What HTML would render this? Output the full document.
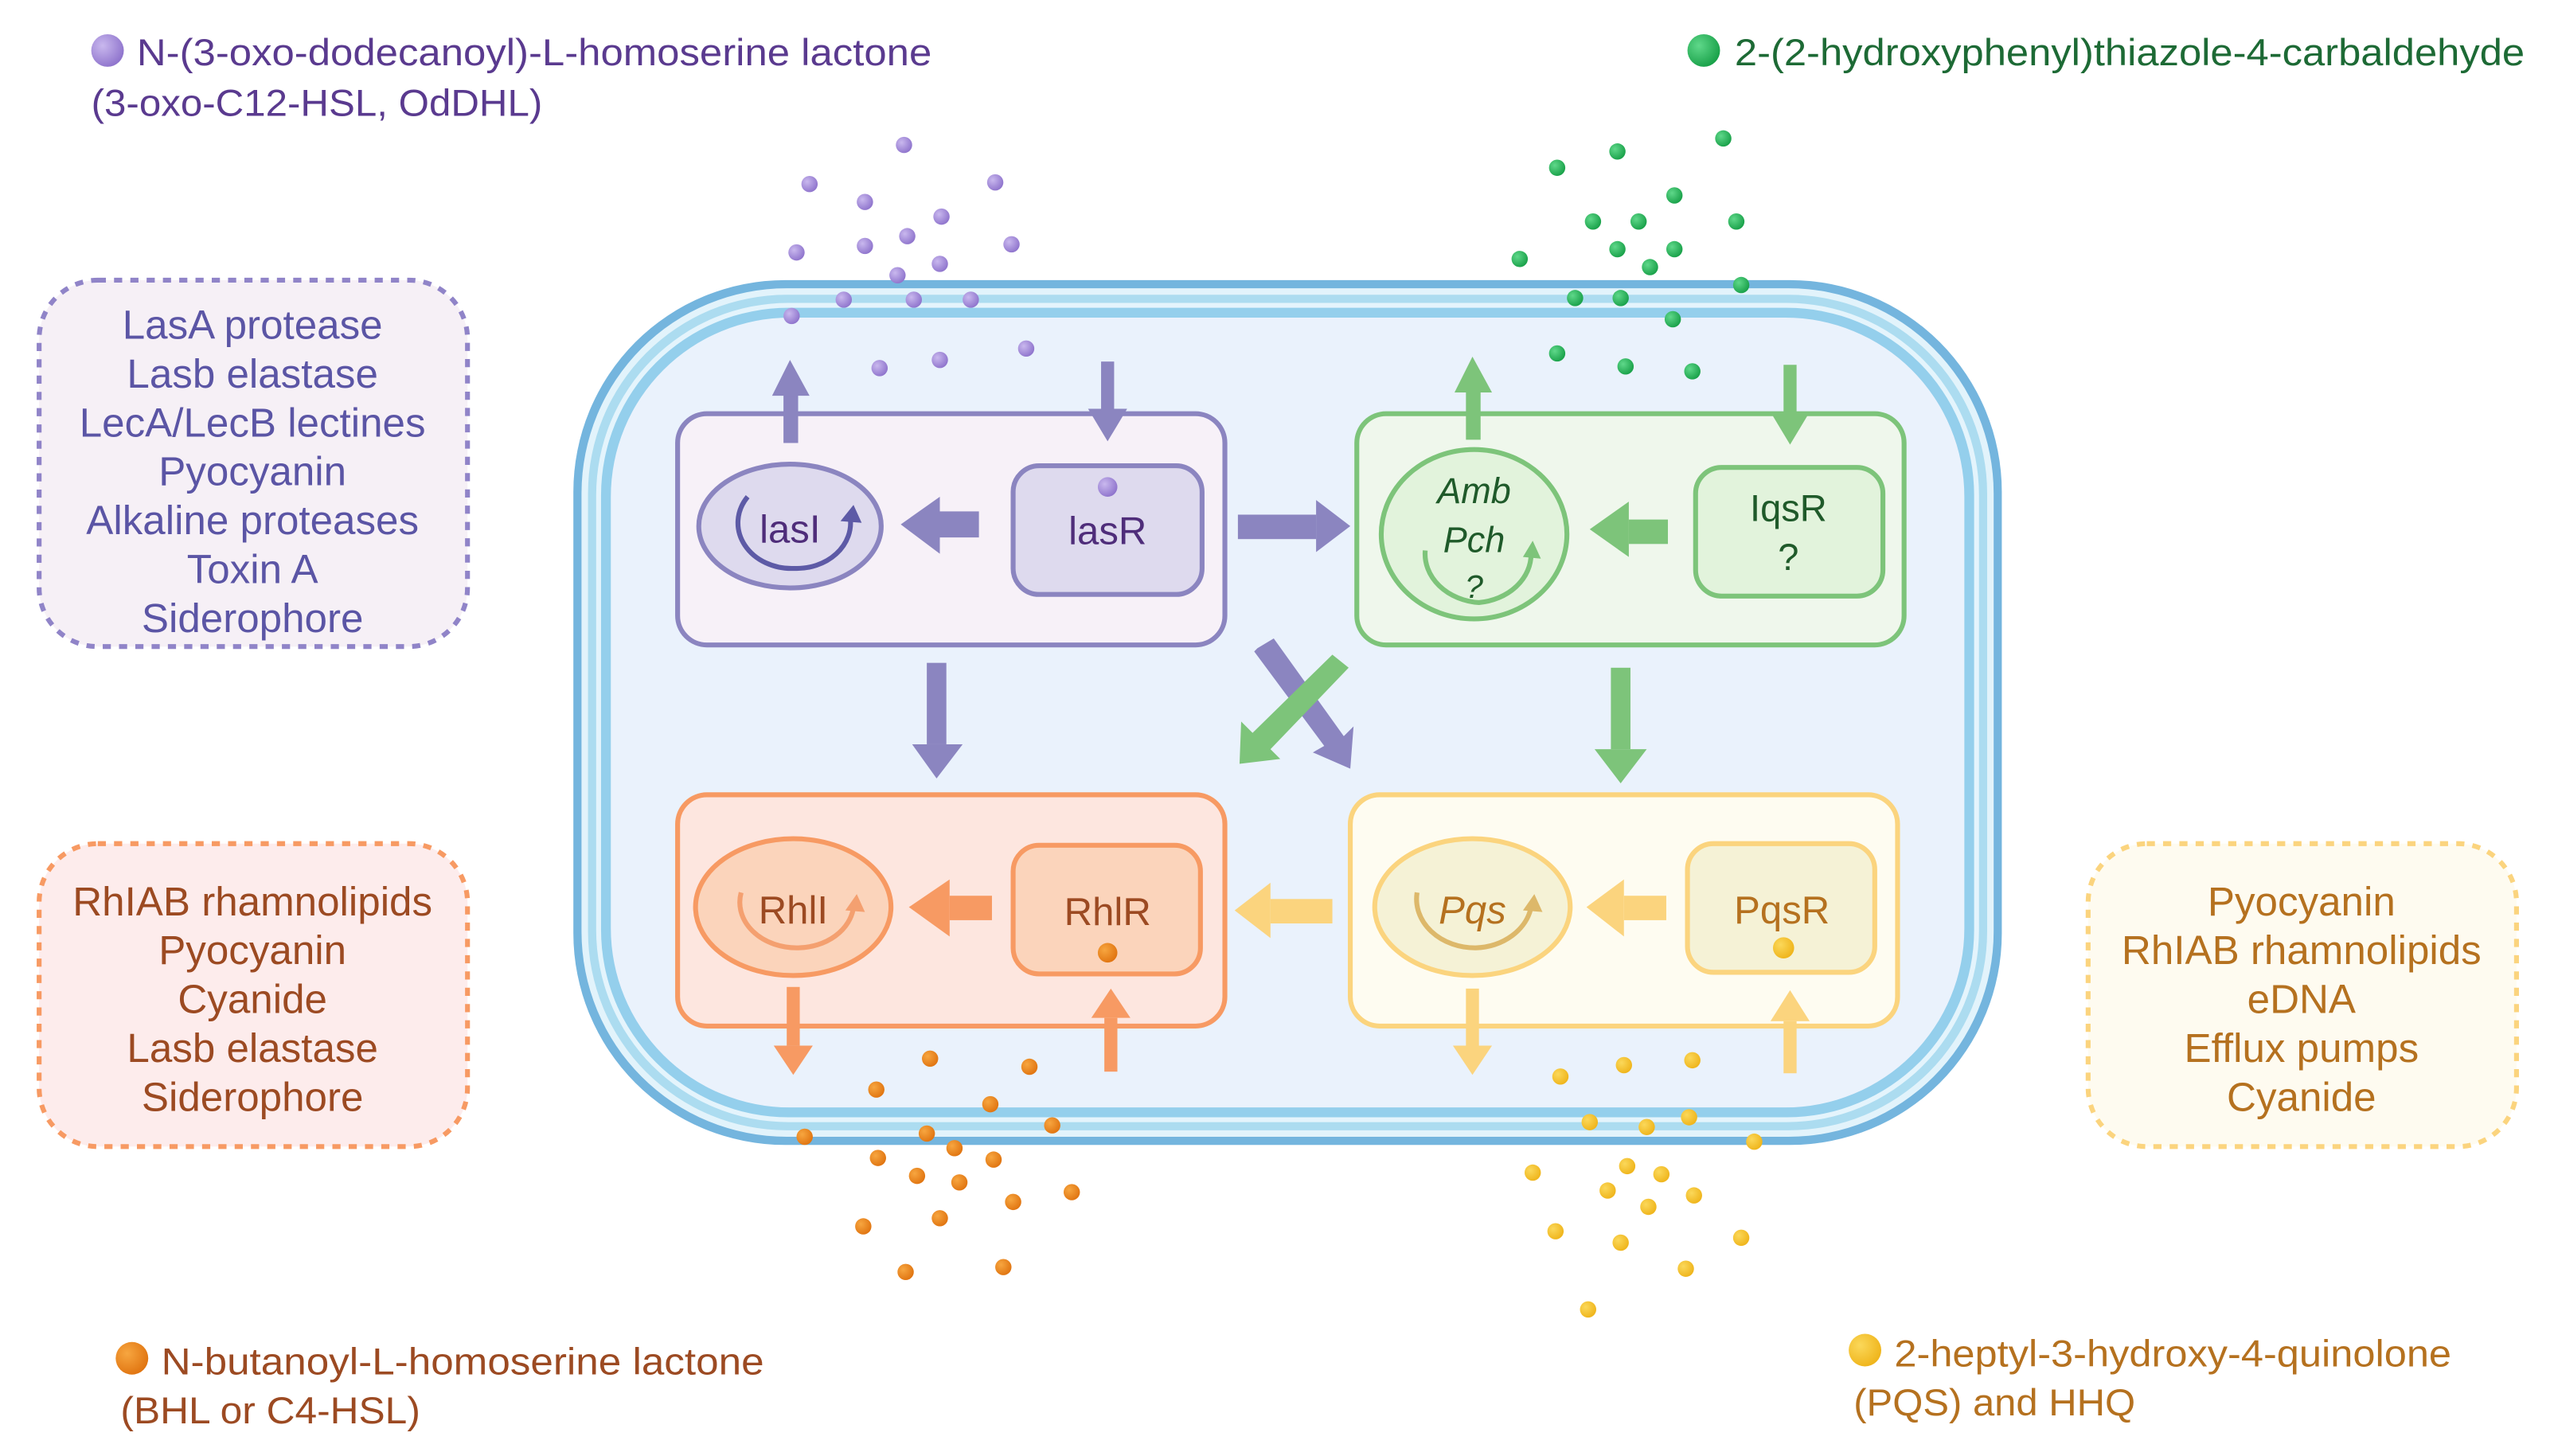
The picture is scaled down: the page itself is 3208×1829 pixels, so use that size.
<!DOCTYPE html>
<html><head><meta charset="utf-8"><style>html,body{margin:0;padding:0;background:#fff}svg{display:block}text{font-family:"Liberation Sans",sans-serif}</style></head>
<body>
<svg width="3208" height="1829" viewBox="0 0 1568 894" xmlns="http://www.w3.org/2000/svg">
<defs>
<radialGradient id="gp" cx="35%" cy="35%" r="70%"><stop offset="0" stop-color="#c9b8ee"/><stop offset="1" stop-color="#8e73cc"/></radialGradient>
<radialGradient id="gg" cx="35%" cy="35%" r="70%"><stop offset="0" stop-color="#5fd88a"/><stop offset="1" stop-color="#18a048"/></radialGradient>
<radialGradient id="go" cx="35%" cy="35%" r="70%"><stop offset="0" stop-color="#f7a640"/><stop offset="1" stop-color="#e07410"/></radialGradient>
<radialGradient id="gy" cx="35%" cy="35%" r="70%"><stop offset="0" stop-color="#fbd85a"/><stop offset="1" stop-color="#efb41a"/></radialGradient>
</defs>
<rect x="352" y="172" width="877" height="531" rx="130" fill="#74b5de"/>
<rect x="357" y="177" width="867" height="521" rx="126" fill="#e2f3fb"/>
<rect x="361" y="181" width="859" height="513" rx="122" fill="#acdcf0"/>
<rect x="366" y="186" width="849" height="503" rx="118" fill="#e4f4fc"/>
<rect x="369" y="189" width="843" height="497" rx="115" fill="#94cfec"/>
<rect x="375" y="195" width="831" height="485" rx="110" fill="#eaf2fc"/>

<rect x="416" y="254" width="336" height="142" rx="18" fill="#f7f1f8" stroke="#8b85c0" stroke-width="3"/>
<rect x="833" y="254" width="336" height="142" rx="18" fill="#eff7ec" stroke="#7dc47a" stroke-width="3"/>
<rect x="416" y="488" width="336" height="142" rx="18" fill="#fde6df" stroke="#f79a63" stroke-width="3"/>
<rect x="829" y="488" width="336" height="142" rx="18" fill="#fefcf1" stroke="#fbd47e" stroke-width="3"/>

<ellipse cx="485" cy="323" rx="56" ry="38" fill="#dedaee" stroke="#8b85c0" stroke-width="3"/>
<path d="M 459 305 A 33 28 0 0 0 488 349 A 33 28 0 0 0 522 318" fill="none" stroke="#5d5aa6" stroke-width="3"/>
<polygon points="516,320 524,310 529,321" fill="#5d5aa6"/>
<text x="485" y="333" font-size="24" fill="#4f2d7a" text-anchor="middle">lasI</text>
<rect x="622" y="286" width="116" height="79" rx="16" fill="#dedaee" stroke="#8b85c0" stroke-width="3"/>
<circle cx="680" cy="299" r="6" fill="url(#gp)"/>
<text x="680" y="334" font-size="24" fill="#4f2d7a" text-anchor="middle">lasR</text>

<ellipse cx="905" cy="328" rx="57" ry="52" fill="#e2f3dc" stroke="#7dc47a" stroke-width="3"/>
<path d="M 875 338 A 36 30 0 0 0 908 370 A 36 30 0 0 0 940 340" fill="none" stroke="#7dc47a" stroke-width="3"/>
<polygon points="935,342 941,332 946,343" fill="#7dc47a"/>
<text x="905" y="309" font-size="22" fill="#1f5a2a" text-anchor="middle" font-style="italic">Amb</text>
<text x="905" y="339" font-size="22" fill="#1f5a2a" text-anchor="middle" font-style="italic">Pch</text>
<text x="905" y="367" font-size="20" fill="#1f5a2a" text-anchor="middle" font-style="italic">?</text>
<rect x="1041" y="287" width="115" height="79" rx="16" fill="#e2f3dc" stroke="#7dc47a" stroke-width="3"/>
<text x="1098" y="320" font-size="23" fill="#1f5a2a" text-anchor="middle">IqsR</text>
<text x="1098" y="350" font-size="23" fill="#1f5a2a" text-anchor="middle">?</text>

<ellipse cx="487" cy="557" rx="60" ry="42" fill="#fbd4bb" stroke="#f79a63" stroke-width="3"/>
<path d="M 455 548 A 35 28 0 0 0 490 582 A 35 28 0 0 0 524 557" fill="none" stroke="#f4a070" stroke-width="3"/>
<polygon points="519,559 526,549 531,560" fill="#f4a070"/>
<text x="487" y="567" font-size="24" fill="#9c4a22" text-anchor="middle">RhlI</text>
<rect x="622" y="519" width="115" height="79" rx="16" fill="#fbd4bb" stroke="#f79a63" stroke-width="3"/>
<circle cx="680" cy="585" r="6" fill="url(#go)"/>
<text x="680" y="568" font-size="24" fill="#9c4a22" text-anchor="middle">RhlR</text>

<ellipse cx="904" cy="557" rx="60" ry="42" fill="#f5f2d6" stroke="#fbd47e" stroke-width="3"/>
<path d="M 870 548 A 36 30 0 0 0 906 582 A 36 30 0 0 0 940 557" fill="none" stroke="#ddb86a" stroke-width="3"/>
<polygon points="935,559 942,549 947,560" fill="#ddb86a"/>
<text x="904" y="567" font-size="24" fill="#b5711f" text-anchor="middle" font-style="italic">Pqs</text>
<rect x="1036" y="518" width="115" height="79" rx="16" fill="#f5f2d6" stroke="#fbd47e" stroke-width="3"/>
<circle cx="1095" cy="582" r="6.5" fill="url(#gy)"/>
<text x="1094" y="567" font-size="24" fill="#b5711f" text-anchor="middle">PqsR</text>

<g fill="#8b85c0">
<rect x="481" y="242" width="9" height="30"/><polygon points="474,243 497,243 485,221"/>
<rect x="676" y="222" width="8" height="30"/><polygon points="668,251 692,251 680,271"/>
<rect x="577" y="314" width="24" height="16"/><polygon points="577,305 577,340 553,322"/>
<rect x="760" y="316" width="48" height="15"/><polygon points="808,307 808,339 829,323"/>
<rect x="569" y="407" width="12" height="50"/><polygon points="560,457 591,457 575,478"/>
<polygon points="772,398 782,392 825,452 831,446 829,472 806,462 813,458 770,400" />
</g>
<g fill="#7dc47a">
<rect x="900" y="240" width="9" height="30"/><polygon points="893,241 916,241 904,219"/>
<rect x="1095" y="224" width="8" height="30"/><polygon points="1087,253 1111,253 1099,273"/>
<rect x="1000" y="319" width="24" height="15"/><polygon points="1000,308 1000,342 976,325"/>
<rect x="989" y="410" width="12" height="50"/><polygon points="979,460 1011,460 995,481"/>
<polygon points="818,402 828,410 780,460 786,466 761,469 762,443 769,450"/>
</g>
<g fill="#f79a63">
<rect x="483" y="606" width="8" height="36"/><polygon points="475,642 499,642 487,660"/>
<rect x="678" y="625" width="8" height="33"/><polygon points="670,625 694,625 682,607"/>
<rect x="583" y="550" width="26" height="15"/><polygon points="583,540 583,575 558,557"/>
</g>
<g fill="#fbd47e">
<rect x="900" y="607" width="8" height="36"/><polygon points="892,642 916,642 904,660"/>
<rect x="1095" y="627" width="8" height="32"/><polygon points="1087,627 1111,627 1099,608"/>
<rect x="997" y="550" width="26" height="15"/><polygon points="997,540 997,575 974,557"/>
<rect x="780" y="552" width="38" height="15"/><polygon points="780,542 780,576 758,559"/>
</g>

<g fill="url(#gp)">
<circle cx="555" cy="89" r="5"/><circle cx="497" cy="113" r="5"/><circle cx="611" cy="112" r="5"/><circle cx="531" cy="124" r="5"/><circle cx="578" cy="133" r="5"/><circle cx="621" cy="150" r="5"/><circle cx="489" cy="155" r="5"/><circle cx="531" cy="151" r="5"/><circle cx="557" cy="145" r="5"/><circle cx="577" cy="162" r="5"/><circle cx="551" cy="169" r="5"/><circle cx="518" cy="184" r="5"/><circle cx="561" cy="184" r="5"/><circle cx="596" cy="184" r="5"/><circle cx="486" cy="194" r="5"/><circle cx="630" cy="214" r="5"/><circle cx="577" cy="221" r="5"/><circle cx="540" cy="226" r="5"/>
</g>
<g fill="url(#gg)">
<circle cx="1058" cy="85" r="5"/><circle cx="993" cy="93" r="5"/><circle cx="956" cy="103" r="5"/><circle cx="1028" cy="120" r="5"/><circle cx="978" cy="136" r="5"/><circle cx="1006" cy="136" r="5"/><circle cx="1066" cy="136" r="5"/><circle cx="993" cy="153" r="5"/><circle cx="1028" cy="153" r="5"/><circle cx="933" cy="159" r="5"/><circle cx="1013" cy="164" r="5"/><circle cx="1069" cy="175" r="5"/><circle cx="967" cy="183" r="5"/><circle cx="995" cy="183" r="5"/><circle cx="1027" cy="196" r="5"/><circle cx="956" cy="217" r="5"/><circle cx="998" cy="225" r="5"/><circle cx="1039" cy="228" r="5"/>
</g>
<g fill="url(#go)">
<circle cx="571" cy="650" r="5"/><circle cx="632" cy="655" r="5"/><circle cx="538" cy="669" r="5"/><circle cx="608" cy="678" r="5"/><circle cx="494" cy="698" r="5"/><circle cx="569" cy="696" r="5"/><circle cx="646" cy="691" r="5"/><circle cx="586" cy="705" r="5"/><circle cx="539" cy="711" r="5"/><circle cx="610" cy="712" r="5"/><circle cx="563" cy="722" r="5"/><circle cx="589" cy="726" r="5"/><circle cx="658" cy="732" r="5"/><circle cx="622" cy="738" r="5"/><circle cx="577" cy="748" r="5"/><circle cx="530" cy="753" r="5"/><circle cx="616" cy="778" r="5"/><circle cx="556" cy="781" r="5"/>
</g>
<g fill="url(#gy)">
<circle cx="997" cy="654" r="5"/><circle cx="1039" cy="651" r="5"/><circle cx="958" cy="661" r="5"/><circle cx="1037" cy="686" r="5"/><circle cx="976" cy="689" r="5"/><circle cx="1011" cy="692" r="5"/><circle cx="1077" cy="701" r="5"/><circle cx="941" cy="720" r="5"/><circle cx="999" cy="716" r="5"/><circle cx="1020" cy="721" r="5"/><circle cx="987" cy="731" r="5"/><circle cx="1040" cy="734" r="5"/><circle cx="1012" cy="741" r="5"/><circle cx="955" cy="756" r="5"/><circle cx="995" cy="763" r="5"/><circle cx="1069" cy="760" r="5"/><circle cx="1035" cy="779" r="5"/><circle cx="975" cy="804" r="5"/>
</g>

<circle cx="66" cy="31" r="10" fill="url(#gp)"/>
<text x="84" y="40" font-size="23" fill="#5a3a8f" textLength="488" lengthAdjust="spacingAndGlyphs">N-(3-oxo-dodecanoyl)-L-homoserine lactone</text>
<text x="56" y="71" font-size="23" fill="#5a3a8f" textLength="277" lengthAdjust="spacingAndGlyphs">(3-oxo-C12-HSL, OdDHL)</text>
<circle cx="1046" cy="31" r="10" fill="url(#gg)"/>
<text x="1065" y="40" font-size="23" fill="#1d6a35" textLength="485" lengthAdjust="spacingAndGlyphs">2-(2-hydroxyphenyl)thiazole-4-carbaldehyde</text>
<circle cx="81" cy="834" r="10" fill="url(#go)"/>
<text x="99" y="844" font-size="23" fill="#9c4a22" textLength="370" lengthAdjust="spacingAndGlyphs">N-butanoyl-L-homoserine lactone</text>
<text x="74" y="874" font-size="23" fill="#9c4a22" textLength="184" lengthAdjust="spacingAndGlyphs">(BHL or C4-HSL)</text>
<circle cx="1145" cy="829" r="10" fill="url(#gy)"/>
<text x="1163" y="839" font-size="23" fill="#b5711f" textLength="342" lengthAdjust="spacingAndGlyphs">2-heptyl-3-hydroxy-4-quinolone</text>
<text x="1138" y="869" font-size="23" fill="#b5711f" textLength="173" lengthAdjust="spacingAndGlyphs">(PQS) and HHQ</text>

<rect x="24" y="172" width="263" height="225" rx="36" fill="#f6f0f6" stroke="#9084c8" stroke-width="3" stroke-dasharray="5,5"/>
<g font-size="25" fill="#5b55a5" text-anchor="middle">
<text x="155" y="208">LasA protease</text><text x="155" y="238">Lasb elastase</text><text x="155" y="268">LecA/LecB lectines</text><text x="155" y="298">Pyocyanin</text><text x="155" y="328">Alkaline proteases</text><text x="155" y="358">Toxin A</text><text x="155" y="388">Siderophore</text>
</g>
<rect x="24" y="518" width="263" height="186" rx="36" fill="#fdecec" stroke="#f79a63" stroke-width="3" stroke-dasharray="5,5"/>
<g font-size="25" fill="#9c4a22" text-anchor="middle">
<text x="155" y="562">RhIAB rhamnolipids</text><text x="155" y="592">Pyocyanin</text><text x="155" y="622">Cyanide</text><text x="155" y="652">Lasb elastase</text><text x="155" y="682">Siderophore</text>
</g>
<rect x="1282" y="518" width="263" height="186" rx="36" fill="#fefbf0" stroke="#fbd47e" stroke-width="3" stroke-dasharray="5,5"/>
<g font-size="25" fill="#b5711f" text-anchor="middle">
<text x="1413" y="562">Pyocyanin</text><text x="1413" y="592">RhIAB rhamnolipids</text><text x="1413" y="622">eDNA</text><text x="1413" y="652">Efflux pumps</text><text x="1413" y="682">Cyanide</text>
</g>
</svg>
</body></html>
